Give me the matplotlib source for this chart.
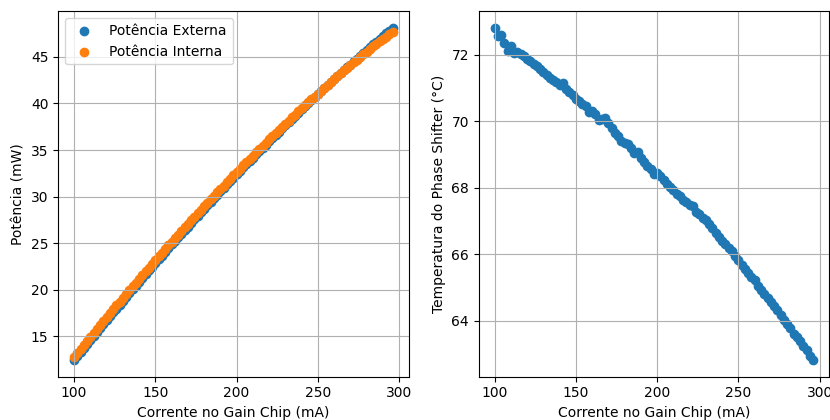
import matplotlib
matplotlib.use("Agg")
import matplotlib.pyplot as plt

# Current sweep on the gain chip (mA)
corrente = [100, 102, 104, 106, 108, 110, 112, 114, 116, 118,
            120, 122, 124, 126, 128, 130, 132, 134, 136, 138,
            140, 142, 144, 146, 148, 150, 152, 154, 156, 158,
            160, 162, 164, 166, 168, 170, 172, 174, 176, 178,
            180, 182, 184, 186, 188, 190, 192, 194, 196, 198,
            200, 202, 204, 206, 208, 210, 212, 214, 216, 218,
            220, 222, 224, 226, 228, 230, 232, 234, 236, 238,
            240, 242, 244, 246, 248, 250, 252, 254, 256, 258,
            260, 262, 264, 266, 268, 270, 272, 274, 276, 278,
            280, 282, 284, 286, 288, 290, 292, 294, 296]

# Output power (mW)
pot_externa = [12.45, 12.86, 13.33, 13.74, 14.19, 14.60, 15.05, 15.45, 15.90, 16.30,
               16.74, 17.15, 17.58, 17.98, 18.41, 18.81, 19.24, 19.64, 20.06, 20.45,
               20.88, 21.27, 21.69, 22.07, 22.49, 22.88, 23.29, 23.67, 24.08, 24.46,
               24.87, 25.25, 25.65, 26.02, 26.42, 26.79, 27.19, 27.56, 27.95, 28.32,
               28.71, 29.07, 29.46, 29.82, 30.21, 30.56, 30.94, 31.30, 31.68, 32.03,
               32.40, 32.75, 33.13, 33.47, 33.84, 34.18, 34.55, 34.89, 35.26, 35.59,
               35.96, 36.29, 36.65, 36.97, 37.34, 37.66, 38.02, 38.34, 38.69, 39.01,
               39.36, 39.68, 40.02, 40.34, 40.68, 40.99, 41.33, 41.64, 41.98, 42.28,
               42.62, 42.92, 43.25, 43.55, 43.88, 44.17, 44.50, 44.79, 45.12, 45.40,
               45.73, 46.01, 46.33, 46.61, 46.93, 47.20, 47.52, 47.80, 48.10]

pot_interna = [12.80, 13.23, 13.67, 14.10, 14.52, 14.95, 15.38, 15.80, 16.23, 16.64,
               17.06, 17.48, 17.90, 18.32, 18.73, 19.14, 19.55, 19.97, 20.37, 20.77,
               21.18, 21.59, 21.99, 22.38, 22.78, 23.18, 23.58, 23.97, 24.36, 24.76,
               25.15, 25.53, 25.92, 26.31, 26.69, 27.07, 27.45, 27.84, 28.22, 28.59,
               28.96, 29.34, 29.71, 30.08, 30.45, 30.82, 31.19, 31.56, 31.92, 32.29,
               32.65, 33.00, 33.36, 33.71, 34.07, 34.41, 34.77, 35.11, 35.46, 35.80,
               36.15, 36.49, 36.82, 37.17, 37.50, 37.83, 38.16, 38.49, 38.81, 39.14,
               39.46, 39.79, 40.11, 40.43, 40.74, 41.06, 41.37, 41.69, 42.00, 42.31,
               42.62, 42.93, 43.23, 43.54, 43.83, 44.13, 44.42, 44.71, 45.00, 45.28,
               45.57, 45.84, 46.11, 46.38, 46.65, 46.92, 47.18, 47.45, 47.70]

# Phase shifter temperature (°C)
temperatura = [72.80, 72.55, 72.58, 72.35, 72.12, 72.25, 72.05, 72.08, 72.02, 71.95,
               71.88, 71.80, 71.72, 71.65, 71.58, 71.48, 71.40, 71.30, 71.25, 71.18,
               71.10, 71.15, 70.98, 70.88, 70.78, 70.66, 70.60, 70.52, 70.45, 70.28,
               70.30, 70.22, 70.02, 70.05, 70.10, 69.95, 69.80, 69.65, 69.55, 69.40,
               69.35, 69.30, 69.20, 69.05, 69.08, 68.90, 68.78, 68.65, 68.55, 68.42,
               68.45, 68.35, 68.22, 68.12, 68.02, 67.92, 67.82, 67.75, 67.62, 67.58,
               67.48, 67.45, 67.28, 67.20, 67.10, 67.02, 66.90, 66.78, 66.65, 66.52,
               66.40, 66.30, 66.18, 66.10, 65.95, 65.82, 65.68, 65.55, 65.45, 65.32,
               65.22, 65.05, 64.92, 64.80, 64.70, 64.58, 64.45, 64.32, 64.18, 64.02,
               63.92, 63.78, 63.62, 63.50, 63.38, 63.25, 63.12, 62.95, 62.82]

fig, (ax1, ax2) = plt.subplots(1, 2, figsize=(8.3, 4.2), dpi=100)
fig.subplots_adjust(left=0.07, right=0.999, bottom=0.103, top=0.973, wspace=0.2)

# Power vs current
ax1.scatter(corrente, pot_externa, label="Potência Externa")
ax1.scatter(corrente, pot_interna, label="Potência Interna")
ax1.set_xlabel("Corrente no Gain Chip (mA)")
ax1.set_ylabel("Potência (mW)")
ax1.legend(loc="upper left")
ax1.grid(True)

# Temperature vs current
ax2.scatter(corrente, temperatura)
ax2.set_xlabel("Corrente no Gain Chip (mA)")
ax2.set_ylabel("Temperatura do Phase Shifter (°C)")
ax2.grid(True)

fig.savefig("out.png", dpi=100)
